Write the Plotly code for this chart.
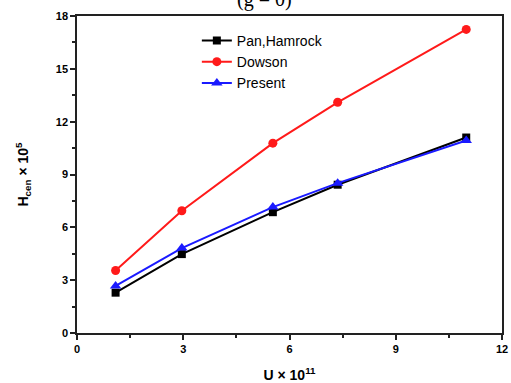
import plotly.graph_objects as go

x_vals = [1.09, 2.96, 5.53, 7.36, 10.99]
pan_hamrock = [2.29, 4.48, 6.86, 8.42, 11.1]
dowson = [3.55, 6.94, 10.78, 13.1, 17.24]
present = [2.67, 4.82, 7.15, 8.51, 10.93]

series = [
    ("Pan,Hamrock", pan_hamrock, "#000000", "square", 8),
    ("Dowson", dowson, "#ff1a1a", "circle", 9),
    ("Present", present, "#1a1aff", "triangle-up", 10),
]

fig = go.Figure()
for name, ys, color, sym, size in series:
    fig.add_trace(go.Scatter(
        x=x_vals, y=ys, name=name, mode="lines+markers",
        line=dict(color=color, width=2),
        marker=dict(symbol=sym, size=size, color=color),
    ))

axis_common = dict(
    showgrid=False, zeroline=False, showline=True, linecolor="#222222",
    linewidth=1.5, mirror=True, ticks="outside", ticklen=5, tickwidth=1.5,
    tickcolor="#222222", automargin=False,
    tickfont=dict(family="Liberation Sans, Arial", size=11, color="black", weight="bold"),
    minor=dict(ticks="outside", ticklen=3, tickwidth=1.5, tickcolor="#222222", dtick=1.5),
)

fig.update_xaxes(range=[0, 12], dtick=3, tick0=0,
                 title=dict(text="U × 10<sup>11</sup>", standoff=16,
                            font=dict(family="Liberation Sans, Arial", size=14, color="black", weight="bold")),
                 **axis_common)
fig.update_yaxes(range=[0, 18], dtick=3, tick0=0,
                 title=dict(text="H<sub>cen</sub> × 10<sup>5</sup>", standoff=24,
                            font=dict(family="Liberation Sans, Arial", size=14, color="black", weight="bold")),
                 **axis_common)

fig.add_annotation(text="(g = 0)", xref="paper", yref="paper", x=0.44, y=1.0,
                   yanchor="bottom", yshift=3, showarrow=False,
                   font=dict(family="Liberation Serif", size=20, color="black"))

fig.update_layout(
    width=511, height=383,
    margin=dict(l=77, r=9, t=16, b=50),
    paper_bgcolor="white", plot_bgcolor="white",
    showlegend=True,
    legend=dict(x=0.282, y=0.972, xanchor="left", yanchor="top",
                bgcolor="rgba(0,0,0,0)", borderwidth=0,
                font=dict(family="Liberation Sans, Arial", size=14, color="black"),
                tracegroupgap=0, itemwidth=30),
)

fig.write_html("out.html")
